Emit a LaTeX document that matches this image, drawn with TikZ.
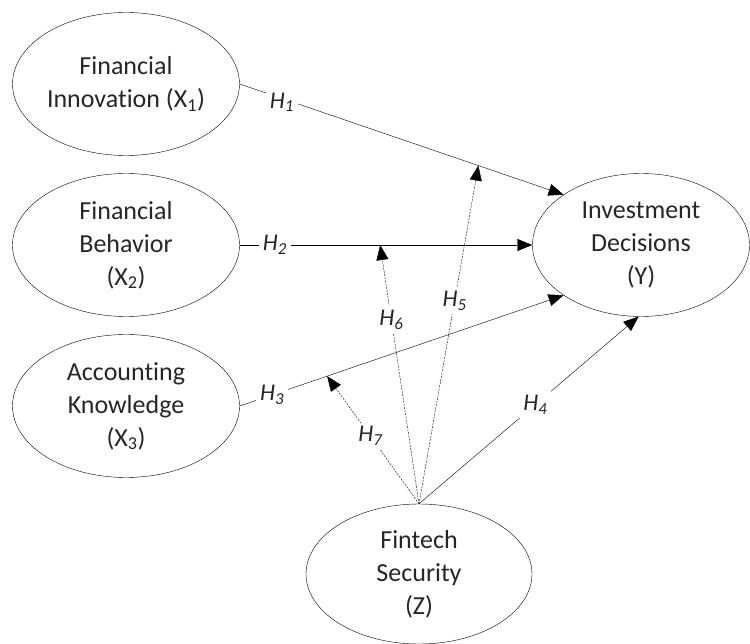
\documentclass[tikz,border=0pt]{standalone}
\usepackage{fontspec}
\setmainfont{Carlito}[Ligatures=NoCommon]
\usetikzlibrary{shapes.geometric, arrows.meta}

\tikzset{
  var/.style={draw, ellipse, thin, inner sep=0pt, align=center,
    minimum width=227pt, minimum height=143pt,
    font=\fontsize{26}{33}\selectfont, text=black!85},
  hyp/.style={fill=white, inner sep=4pt, text=black!85,
    font=\fontsize{24}{26}\selectfont\itshape},
  direct/.style={thin, -{Triangle[length=15pt, width=12pt]}},
  moder/.style={direct, dash pattern=on 2pt off 1.2pt}
}

\begin{document}
\begin{tikzpicture}[x=1pt, y=-1pt]
\useasboundingbox (0, 0) rectangle (750, 644);

\node (x1) at (126, 84) [var] {Financial\\Innovation (X\textsubscript{1})};
\node (x2) at (126, 245) [var] {Financial\\Behavior\\(X\textsubscript{2})};
\node (x3) at (126, 406) [var] {Accounting\\Knowledge\\(X\textsubscript{3})};
\node (y) at (641, 245) [var, minimum width=217pt] {Investment\\Decisions\\(Y)};
\node (z) at (419, 574) [var, minimum width=226pt, minimum height=140pt] {Fintech\\Security\\(Z)};

% direct paths
\draw[direct] (x1.east) -- node[hyp, pos=0.13, yshift=-4pt] {H\textsubscript{1}} coordinate[pos=0.737] (m1) (y.147);
\draw[direct] (x2.east) -- node[hyp, pos=0.12] {H\textsubscript{2}} coordinate[pos=0.48] (m2) (y.west);
\draw[direct] (x3.east) -- node[hyp, pos=0.1] {H\textsubscript{3}} coordinate[pos=0.27] (m3) (y.213);
\draw[direct] (z.north) -- node[hyp, pos=0.53] {H\textsubscript{4}} (y.268);

% moderating paths
\draw[moder] (z.north) -- node[hyp, pos=0.6] {H\textsubscript{5}} (m1);
\draw[moder] (z.north) -- node[hyp, pos=0.71] {H\textsubscript{6}} (m2);
\draw[moder] (z.north) -- node[hyp, pos=0.53] {H\textsubscript{7}} (m3);
\end{tikzpicture}
\end{document}
